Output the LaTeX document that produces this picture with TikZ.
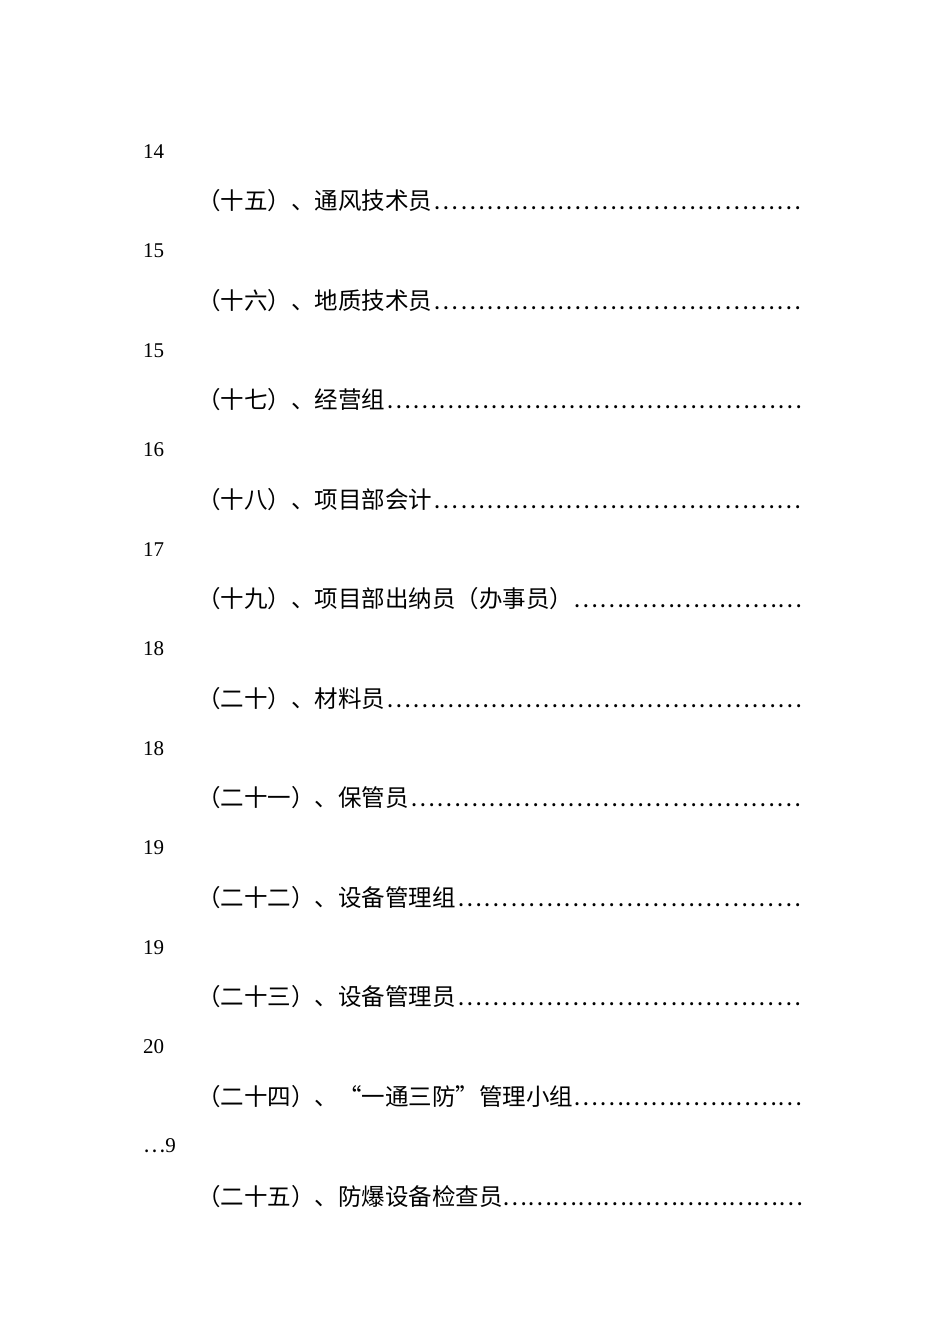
\documentclass[tikz,border=0pt]{standalone}
\usepackage{fontspec}
\setmainfont{Liberation Serif}
\newfontfamily\cjk{Noto Sans CJK SC}
\newcommand{\entry}[1]{\hbox to 606pt{\cjk #1\xleaders\hbox{…}\hfill}}
\begin{document}
\begin{tikzpicture}[x=1pt,y=-1pt,
  num/.style={anchor=west,inner sep=0pt,font=\fontsize{21}{21}\selectfont},
  ent/.style={anchor=west,inner sep=0pt,font=\fontsize{23.5}{23.5}\selectfont}]
\useasboundingbox[fill=white] (0,0) rectangle (950,1344);
\node[num] (n1) at (143,152) {14};
\node[ent] (e1) at (197,201) {\entry{（十五）、通风技术员}};
\node[num] (n2) at (143,251) {15};
\node[ent] (e2) at (197,301) {\entry{（十六）、地质技术员}};
\node[num] (n3) at (143,351) {15};
\node[ent] (e3) at (197,400) {\entry{（十七）、经营组}};
\node[num] (n4) at (143,450) {16};
\node[ent] (e4) at (197,500) {\entry{（十八）、项目部会计}};
\node[num] (n5) at (143,550) {17};
\node[ent] (e5) at (197,599) {\entry{（十九）、项目部出纳员（办事员）}};
\node[num] (n6) at (143,649) {18};
\node[ent] (e6) at (197,699) {\entry{（二十）、材料员}};
\node[num] (n7) at (143,749) {18};
\node[ent] (e7) at (197,798) {\entry{（二十一）、保管员}};
\node[num] (n8) at (143,848) {19};
\node[ent] (e8) at (197,898) {\entry{（二十二）、设备管理组}};
\node[num] (n9) at (143,948) {19};
\node[ent] (e9) at (197,997) {\entry{（二十三）、设备管理员}};
\node[num] (n10) at (143,1047) {20};
\node[ent] (e10) at (197,1097) {\entry{（二十四）、“一通三防”管理小组}};
\node[num] (n11) at (143,1146) {{\cjk …}9};
\node[ent] (e11) at (197,1197) {\entry{（二十五）、防爆设备检查员}};
\end{tikzpicture}
\end{document}
